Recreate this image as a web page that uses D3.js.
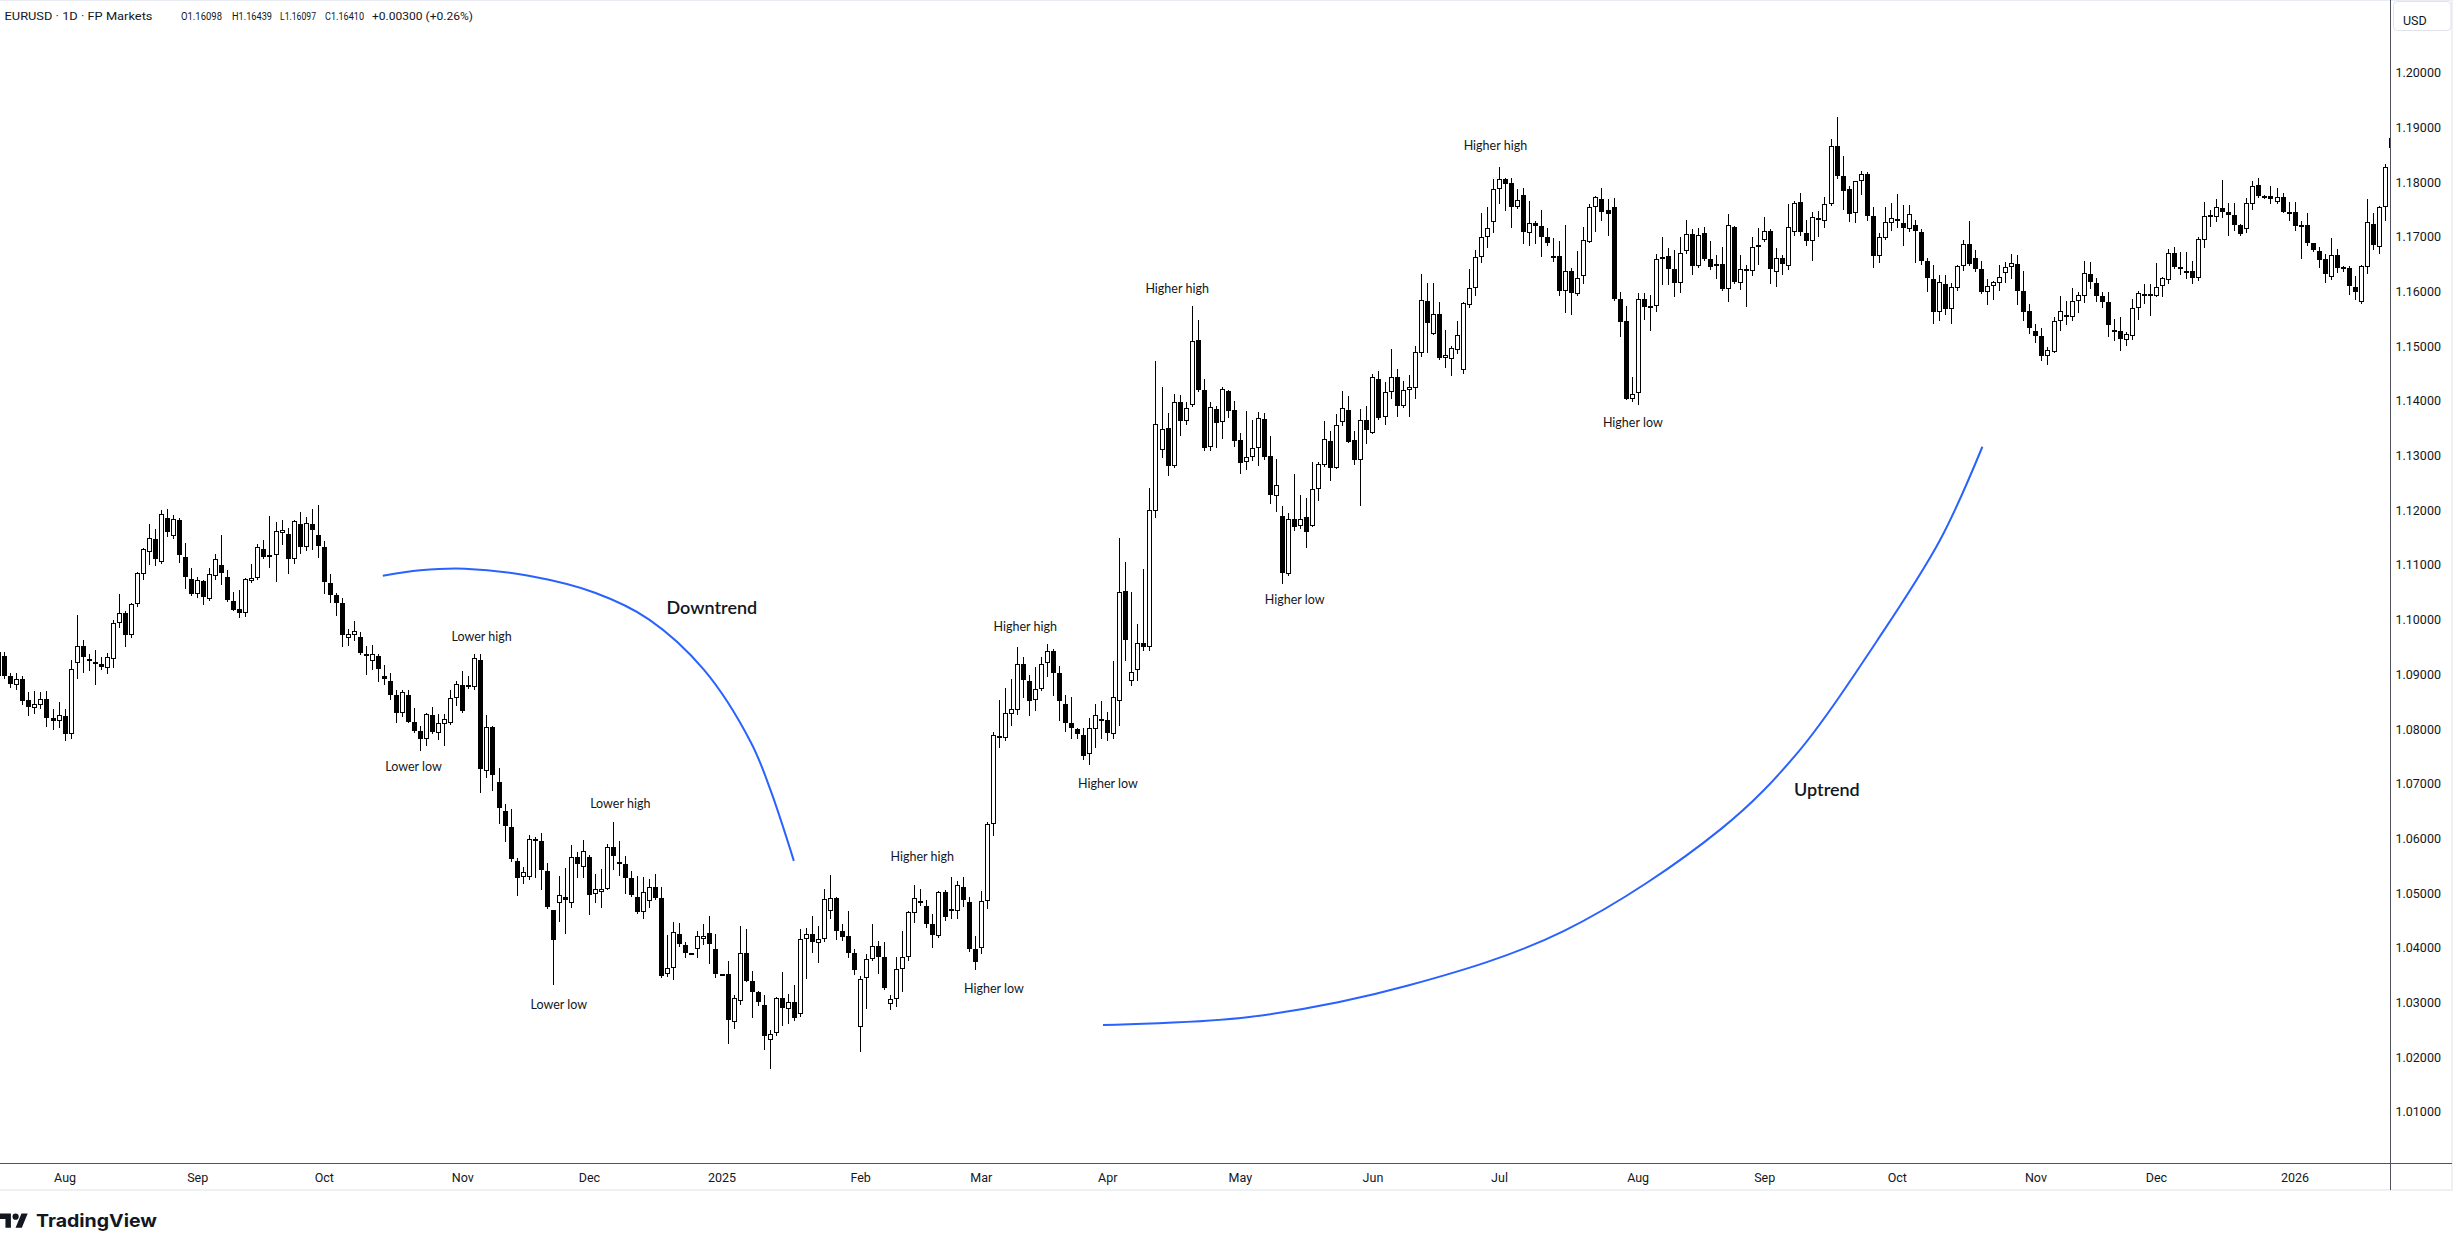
<!DOCTYPE html>
<html><head><meta charset="utf-8">
<script src="https://cdn.jsdelivr.net/npm/d3@7"></script>
<style>html,body{margin:0;padding:0;background:#fff;overflow:hidden}</style>
</head><body><svg id="c" width="2453" height="1250"></svg>
<script>
// ---------------- DATA (daily candles, first = 2024-07-17, weekdays) ----------------
const firstDay = "2024-07-17";
const openP = [
1.0897,1.0933,1.0897,1.0880,1.0892,1.0853,1.0838,1.0844,1.0854,1.0821,
1.0815,1.0824,1.0790,1.0921,1.0952,1.0928,1.0923,1.0919,1.0911,1.0928,
1.0994,1.1012,1.0971,1.1028,1.1083,1.1123,1.1147,1.1105,1.1185,1.1152,
1.1182,1.1114,1.1074,1.1046,1.1070,1.1037,1.1079,1.1100,1.1078,1.1034,
1.1019,1.1012,1.1070,1.1076,1.1129,1.1114,1.1118,1.1158,1.1157,1.1111,
1.1175,1.1132,1.1175,1.1155,1.1133,1.1066,1.1045,1.1030,1.0967,1.0971,
1.0969,1.0938,1.0925,1.0933,1.0897,1.0888,1.0862,1.0830,1.0862,1.0813,
1.0797,1.0781,1.0826,1.0792,1.0809,1.0811,1.0856,1.0881,1.0880,1.0876,
1.0926,1.0724,1.0803,1.0703,1.0650,1.0621,1.0559,1.0529,1.0530,1.0595,
1.0595,1.0540,1.0469,1.0482,1.0492,1.0482,1.0566,1.0548,1.0566,1.0498,
1.0502,1.0508,1.0585,1.0556,1.0553,1.0527,1.0492,1.0465,1.0485,1.0511,
1.0491,1.0352,1.0363,1.0425,1.0405,1.0390,1.0397,1.0416,1.0427,1.0398,
1.0352,1.0352,1.0264,1.0303,1.0390,1.0340,1.0319,1.0295,1.0232,1.0244,
1.0308,1.0288,1.0301,1.0279,1.0416,1.0425,1.0409,1.0416,1.0468,1.0491,
1.0430,1.0422,1.0390,1.0256,1.0345,1.0379,1.0404,1.0383,1.0298,1.0306,
1.0361,1.0383,1.0464,1.0486,1.0476,1.0444,1.0421,1.0502,1.0471,1.0468,
1.0512,1.0483,1.0397,1.0400,1.0486,1.0627,1.0787,1.0783,1.0828,1.0834,
1.0919,1.0888,1.0853,1.0874,1.0921,1.0943,1.0902,1.0846,1.0811,1.0800,
1.0789,1.0754,1.0800,1.0819,1.0817,1.0791,1.0851,1.1052,1.0888,1.0907,
1.0958,1.0949,1.1199,1.1310,1.1350,1.1280,1.1397,1.1363,1.1392,1.1512,
1.1420,1.1315,1.1385,1.1361,1.1418,1.1384,1.1328,1.1288,1.1298,1.1313,
1.1366,1.1299,1.1226,1.1190,1.1083,1.1184,1.1172,1.1187,1.1172,1.1238,
1.1282,1.1327,1.1278,1.1361,1.1383,1.1328,1.1291,1.1365,1.1342,1.1440,
1.1371,1.1416,1.1443,1.1391,1.1420,1.1423,1.1487,1.1582,1.1523,1.1559,
1.1479,1.1476,1.1493,1.1456,1.1575,1.1607,1.1662,1.1700,1.1726,1.1787,
1.1805,1.1798,1.1755,1.1777,1.1706,1.1725,1.1720,1.1699,1.1665,1.1665,
1.1601,1.1638,1.1595,1.1628,1.1691,1.1754,1.1769,1.1749,1.1754,1.1586,
1.1545,1.1403,1.1414,1.1586,1.1569,1.1574,1.1659,1.1665,1.1641,1.1615,
1.1673,1.1705,1.1647,1.1707,1.1659,1.1647,1.1650,1.1604,1.1717,1.1615,
1.1641,1.1637,1.1685,1.1694,1.1711,1.1636,1.1661,1.1647,1.1709,1.1763,
1.1706,1.1693,1.1734,1.1728,1.1759,1.1866,1.1811,1.1787,1.1743,1.1801,
1.1815,1.1738,1.1664,1.1697,1.1725,1.1732,1.1725,1.1714,1.1722,1.1708,
1.1656,1.1623,1.1563,1.1614,1.1567,1.1606,1.1647,1.1686,1.1661,1.1641,
1.1598,1.1609,1.1616,1.1633,1.1644,1.1650,1.1601,1.1564,1.1528,1.1519,
1.1481,1.1490,1.1546,1.1557,1.1554,1.1582,1.1591,1.1632,1.1616,1.1592,
1.1580,1.1530,1.1528,1.1511,1.1519,1.1569,1.1596,1.1595,1.1592,1.1609,
1.1621,1.1670,1.1645,1.1633,1.1637,1.1625,1.1694,1.1739,1.1736,1.1752,
1.1745,1.1739,1.1722,1.1714,1.1760,1.1795,1.1775,1.1775,1.1763,1.1772,
1.1746,1.1745,1.1722,1.1722,1.1688,1.1673,1.1659,1.1627,1.1667,1.1641,
1.1642,1.1608,1.1581,1.1644,1.1723,1.1681,1.1754,1.1862];
const highP = [
1.0948,1.0941,1.0902,1.0902,1.0897,1.0868,1.0870,1.0868,1.0869,1.0837,
1.0850,1.0837,1.0927,1.1009,1.0963,1.0938,1.0945,1.0931,1.0939,1.1000,
1.1047,1.1016,1.1030,1.1087,1.1131,1.1175,1.1166,1.1201,1.1202,1.1192,
1.1185,1.1140,1.1094,1.1078,1.1073,1.1095,1.1120,1.1155,1.1090,1.1051,
1.1055,1.1076,1.1101,1.1138,1.1146,1.1190,1.1179,1.1182,1.1167,1.1182,
1.1197,1.1188,1.1203,1.1209,1.1143,1.1083,1.1048,1.1039,1.0983,1.0997,
1.0978,1.0952,1.0954,1.0937,1.0917,1.0902,1.0871,1.0871,1.0871,1.0838,
1.0805,1.0830,1.0840,1.0828,1.0828,1.0872,1.0888,1.0906,1.0896,1.0937,
1.0937,1.0826,1.0805,1.0728,1.0662,1.0653,1.0564,1.0548,1.0607,1.0603,
1.0609,1.0555,1.0470,1.0531,1.0546,1.0588,1.0575,1.0597,1.0570,1.0535,
1.0544,1.0589,1.0630,1.0595,1.0568,1.0541,1.0531,1.0529,1.0525,1.0535,
1.0511,1.0424,1.0447,1.0446,1.0411,1.0391,1.0431,1.0443,1.0458,1.0425,
1.0353,1.0376,1.0313,1.0439,1.0435,1.0358,1.0321,1.0313,1.0250,1.0310,
1.0356,1.0315,1.0332,1.0434,1.0437,1.0458,1.0439,1.0508,1.0533,1.0493,
1.0443,1.0468,1.0398,1.0348,1.0389,1.0443,1.0412,1.0410,1.0313,1.0383,
1.0431,1.0468,1.0515,1.0508,1.0487,1.0462,1.0503,1.0506,1.0529,1.0522,
1.0529,1.0493,1.0421,1.0504,1.0630,1.0795,1.0853,1.0875,1.0891,1.0949,
1.0932,1.0898,1.0914,1.0932,1.0955,1.0947,1.0916,1.0863,1.0859,1.0802,
1.0802,1.0821,1.0846,1.0851,1.0831,1.0925,1.1149,1.1106,1.1051,1.0992,
1.1093,1.1240,1.1472,1.1425,1.1378,1.1413,1.1410,1.1398,1.1573,1.1548,
1.1439,1.1397,1.1391,1.1425,1.1420,1.1400,1.1341,1.1381,1.1365,1.1380,
1.1377,1.1336,1.1294,1.1207,1.1195,1.1266,1.1228,1.1223,1.1289,1.1289,
1.1363,1.1344,1.1376,1.1418,1.1408,1.1345,1.1385,1.1391,1.1449,1.1455,
1.1434,1.1495,1.1458,1.1437,1.1447,1.1500,1.1632,1.1615,1.1615,1.1580,
1.1529,1.1500,1.1545,1.1580,1.1641,1.1676,1.1744,1.1755,1.1805,1.1828,
1.1808,1.1808,1.1787,1.1789,1.1766,1.1729,1.1749,1.1715,1.1698,1.1692,
1.1722,1.1642,1.1673,1.1717,1.1760,1.1775,1.1789,1.1769,1.1770,1.1599,
1.1574,1.1443,1.1597,1.1597,1.1594,1.1668,1.1699,1.1679,1.1676,1.1699,
1.1731,1.1714,1.1716,1.1717,1.1692,1.1667,1.1681,1.1741,1.1720,1.1666,
1.1648,1.1699,1.1716,1.1736,1.1714,1.1679,1.1666,1.1760,1.1765,1.1779,
1.1731,1.1745,1.1747,1.1773,1.1878,1.1918,1.1848,1.1793,1.1802,1.1820,
1.1818,1.1754,1.1706,1.1754,1.1761,1.1778,1.1758,1.1758,1.1731,1.1714,
1.1661,1.1648,1.1630,1.1630,1.1616,1.1648,1.1694,1.1729,1.1676,1.1655,
1.1623,1.1619,1.1648,1.1653,1.1669,1.1667,1.1637,1.1577,1.1541,1.1533,
1.1498,1.1553,1.1592,1.1583,1.1606,1.1598,1.1656,1.1654,1.1624,1.1598,
1.1598,1.1550,1.1554,1.1525,1.1586,1.1600,1.1613,1.1613,1.1652,1.1627,
1.1678,1.1682,1.1672,1.1672,1.1656,1.1700,1.1763,1.1749,1.1769,1.1804,
1.1762,1.1762,1.1723,1.1770,1.1802,1.1807,1.1777,1.1792,1.1789,1.1779,
1.1764,1.1764,1.1728,1.1743,1.1689,1.1682,1.1668,1.1698,1.1678,1.1647,
1.1647,1.1628,1.1648,1.1769,1.1743,1.1756,1.1833,1.1885];
const lowP = [
1.0895,1.0893,1.0876,1.0874,1.0845,1.0826,1.0830,1.0838,1.0805,1.0800,
1.0803,1.0779,1.0783,1.0894,1.0905,1.0907,1.0883,1.0910,1.0902,1.0914,
1.0986,1.0951,1.0969,1.1024,1.1074,1.1101,1.1099,1.1103,1.1152,1.1150,
1.1106,1.1057,1.1045,1.1042,1.1028,1.1036,1.1075,1.1065,1.1034,1.1017,
1.1004,1.1006,1.1068,1.1075,1.1112,1.1097,1.1070,1.1138,1.1085,1.1104,
1.1122,1.1127,1.1129,1.1114,1.1048,1.1033,1.1009,1.0952,1.0954,1.0962,
1.0937,1.0901,1.0909,1.0888,1.0883,1.0854,1.0812,1.0824,1.0812,1.0795,
1.0762,1.0771,1.0792,1.0782,1.0770,1.0809,1.0844,1.0831,1.0875,1.0873,
1.0684,1.0713,1.0688,1.0629,1.0596,1.0558,1.0497,1.0518,1.0526,1.0530,
1.0507,1.0473,1.0334,1.0449,1.0427,1.0475,1.0529,1.0529,1.0462,1.0483,
1.0474,1.0507,1.0544,1.0533,1.0500,1.0495,1.0464,1.0454,1.0475,1.0489,
1.0346,1.0349,1.0343,1.0404,1.0384,1.0389,1.0384,1.0407,1.0373,1.0346,
1.0351,1.0226,1.0254,1.0297,1.0339,1.0274,1.0296,1.0215,1.0180,1.0241,
1.0259,1.0262,1.0268,1.0276,1.0345,1.0393,1.0374,1.0413,1.0455,1.0416,
1.0415,1.0384,1.0352,1.0212,1.0290,1.0378,1.0354,1.0325,1.0289,1.0294,
1.0321,1.0377,1.0448,1.0478,1.0438,1.0402,1.0420,1.0451,1.0455,1.0455,
1.0476,1.0395,1.0361,1.0391,1.0472,1.0606,1.0767,1.0780,1.0808,1.0828,
1.0859,1.0825,1.0834,1.0872,1.0896,1.0862,1.0817,1.0797,1.0783,1.0783,
1.0746,1.0736,1.0767,1.0783,1.0780,1.0783,1.0808,1.0927,1.0881,1.0890,
1.0945,1.0945,1.1188,1.1297,1.1265,1.1279,1.1337,1.1357,1.1390,1.1418,
1.1310,1.1310,1.1316,1.1332,1.1371,1.1318,1.1268,1.1275,1.1292,1.1283,
1.1293,1.1213,1.1198,1.1067,1.1082,1.1164,1.1168,1.1132,1.1171,1.1219,
1.1281,1.1255,1.1277,1.1356,1.1324,1.1284,1.1210,1.1322,1.1341,1.1366,
1.1358,1.1406,1.1373,1.1388,1.1373,1.1406,1.1482,1.1490,1.1523,1.1476,
1.1461,1.1448,1.1487,1.1451,1.1572,1.1593,1.1654,1.1682,1.1708,1.1762,
1.1748,1.1718,1.1753,1.1688,1.1685,1.1689,1.1664,1.1685,1.1656,1.1594,
1.1563,1.1558,1.1593,1.1616,1.1690,1.1711,1.1731,1.1704,1.1585,1.1519,
1.1403,1.1400,1.1394,1.1550,1.1529,1.1565,1.1614,1.1614,1.1591,1.1599,
1.1670,1.1632,1.1645,1.1658,1.1641,1.1624,1.1603,1.1583,1.1616,1.1604,
1.1574,1.1630,1.1650,1.1692,1.1615,1.1609,1.1632,1.1641,1.1703,1.1703,
1.1684,1.1658,1.1702,1.1717,1.1758,1.1808,1.1751,1.1729,1.1726,1.1778,
1.1730,1.1645,1.1653,1.1696,1.1712,1.1717,1.1684,1.1711,1.1653,1.1650,
1.1600,1.1543,1.1548,1.1558,1.1543,1.1602,1.1639,1.1648,1.1638,1.1597,
1.1577,1.1586,1.1602,1.1618,1.1625,1.1577,1.1548,1.1524,1.1507,1.1474,
1.1468,1.1489,1.1530,1.1541,1.1548,1.1563,1.1580,1.1607,1.1583,1.1572,
1.1519,1.1511,1.1492,1.1502,1.1513,1.1549,1.1578,1.1556,1.1591,1.1592,
1.1616,1.1642,1.1632,1.1624,1.1616,1.1621,1.1682,1.1720,1.1728,1.1736,
1.1704,1.1712,1.1703,1.1708,1.1751,1.1773,1.1771,1.1761,1.1761,1.1745,
1.1731,1.1712,1.1661,1.1685,1.1673,1.1644,1.1618,1.1622,1.1635,1.1638,
1.1595,1.1586,1.1578,1.1633,1.1677,1.1671,1.1730,1.1858];
const closeP = [
1.0940,1.0896,1.0882,1.0891,1.0852,1.0840,1.0846,1.0855,1.0821,1.0814,
1.0826,1.0790,1.0910,1.0952,1.0931,1.0924,1.0918,1.0914,1.0931,1.0994,
1.1012,1.0971,1.1028,1.1085,1.1129,1.1149,1.1111,1.1193,1.1161,1.1184,
1.1119,1.1077,1.1046,1.1072,1.1042,1.1083,1.1111,1.1085,1.1035,1.1018,
1.1012,1.1074,1.1076,1.1132,1.1114,1.1118,1.1162,1.1163,1.1111,1.1180,
1.1132,1.1176,1.1163,1.1134,1.1068,1.1045,1.1030,1.0972,1.0973,1.0980,
1.0939,1.0937,1.0937,1.0909,1.0891,1.0862,1.0830,1.0867,1.0813,1.0797,
1.0781,1.0828,1.0795,1.0811,1.0818,1.0856,1.0883,1.0832,1.0881,1.0929,
1.0727,1.0803,1.0716,1.0655,1.0623,1.0563,1.0528,1.0538,1.0598,1.0599,
1.0543,1.0474,1.0414,1.0496,1.0488,1.0566,1.0554,1.0577,1.0497,1.0508,
1.0508,1.0585,1.0567,1.0554,1.0527,1.0496,1.0465,1.0502,1.0511,1.0491,
1.0349,1.0363,1.0428,1.0407,1.0391,1.0390,1.0422,1.0422,1.0407,1.0352,
1.0352,1.0268,1.0308,1.0390,1.0340,1.0319,1.0301,1.0238,1.0242,1.0308,
1.0290,1.0301,1.0271,1.0416,1.0425,1.0410,1.0416,1.0489,1.0491,1.0430,
1.0419,1.0391,1.0359,1.0343,1.0379,1.0404,1.0383,1.0326,1.0306,1.0361,
1.0383,1.0465,1.0491,1.0485,1.0444,1.0424,1.0502,1.0457,1.0470,1.0515,
1.0487,1.0397,1.0374,1.0486,1.0627,1.0789,1.0783,1.0830,1.0836,1.0919,
1.0889,1.0851,1.0874,1.0919,1.0943,1.0902,1.0852,1.0811,1.0802,1.0791,
1.0751,1.0801,1.0825,1.0814,1.0793,1.0859,1.1051,1.0963,1.0904,1.0958,
1.0949,1.1201,1.1357,1.1349,1.1280,1.1397,1.1363,1.1387,1.1510,1.1419,
1.1313,1.1388,1.1360,1.1422,1.1382,1.1327,1.1287,1.1297,1.1313,1.1368,
1.1298,1.1227,1.1246,1.1086,1.1184,1.1170,1.1184,1.1161,1.1238,1.1284,
1.1330,1.1278,1.1356,1.1386,1.1325,1.1291,1.1365,1.1346,1.1443,1.1369,
1.1417,1.1443,1.1391,1.1420,1.1425,1.1489,1.1584,1.1543,1.1559,1.1479,
1.1484,1.1496,1.1520,1.1578,1.1607,1.1662,1.1700,1.1715,1.1787,1.1805,
1.1796,1.1755,1.1768,1.1708,1.1725,1.1720,1.1699,1.1688,1.1664,1.1601,
1.1638,1.1597,1.1624,1.1694,1.1754,1.1772,1.1746,1.1741,1.1586,1.1544,
1.1404,1.1413,1.1586,1.1571,1.1574,1.1659,1.1663,1.1641,1.1615,1.1671,
1.1705,1.1647,1.1703,1.1659,1.1645,1.1650,1.1605,1.1722,1.1618,1.1641,
1.1637,1.1681,1.1683,1.1711,1.1641,1.1661,1.1650,1.1717,1.1761,1.1708,
1.1693,1.1736,1.1733,1.1759,1.1866,1.1811,1.1784,1.1742,1.1802,1.1814,
1.1737,1.1664,1.1700,1.1726,1.1734,1.1730,1.1715,1.1741,1.1711,1.1656,
1.1625,1.1563,1.1618,1.1568,1.1608,1.1647,1.1686,1.1650,1.1641,1.1598,
1.1609,1.1617,1.1626,1.1644,1.1652,1.1600,1.1563,1.1534,1.1518,1.1481,
1.1492,1.1546,1.1564,1.1554,1.1583,1.1594,1.1633,1.1618,1.1591,1.1580,
1.1538,1.1529,1.1513,1.1522,1.1569,1.1597,1.1595,1.1596,1.1608,1.1624,
1.1670,1.1644,1.1644,1.1637,1.1625,1.1695,1.1738,1.1739,1.1754,1.1746,
1.1739,1.1722,1.1705,1.1761,1.1793,1.1775,1.1772,1.1769,1.1772,1.1746,
1.1745,1.1719,1.1721,1.1688,1.1675,1.1658,1.1632,1.1667,1.1642,1.1644,
1.1609,1.1598,1.1647,1.1726,1.1685,1.1754,1.1827,1.1880];

const monthLabels = ["Aug","Sep","Oct","Nov","Dec","2025","Feb","Mar","Apr","May","Jun","Jul","Aug","Sep","Oct","Nov","Dec","2026"];
const priceTicks = [1.01,1.02,1.03,1.04,1.05,1.06,1.07,1.08,1.09,1.10,1.11,1.12,1.13,1.14,1.15,1.16,1.17,1.18,1.19,1.20];
const currency = "USD";
const titleParts = ["EURUSD", "1D", "FP Markets"];
const legendOHLC = [["O", 1.16098], ["H", 1.16439], ["L", 1.16097], ["C", 1.16410]];
const legendChange = [0.00300, 0.26];

// annotations anchored in data space: candle index (array index) and price
const swingLabels = [
  ["Lower low", 68.9, 1.0732], ["Lower high", 80.2, 1.0970], ["Lower low", 93.0, 1.0297],
  ["Lower high", 103.2, 1.0664], ["Higher high", 153.3, 1.0566], ["Higher low", 165.2, 1.0325],
  ["Higher high", 170.4, 1.0987], ["Higher low", 184.1, 1.0700], ["Higher high", 195.6, 1.1606],
  ["Higher low", 215.1, 1.1036], ["Higher high", 248.4, 1.1866], ["Higher low", 271.2, 1.1360]
];
const trendLabels = [["Downtrend", 118.4, 1.1023], ["Uptrend", 303.4, 1.0691]];
const downArc = [[63.8,1.1080],[70,1.1090],[77.4,1.1093],[88,1.1080],[99.0,1.1049],[108,1.1000],[117.1,1.0908],[124.9,1.0775],[128.1,1.0689],[132.0,1.0559]];
const upArc = [[183.3,1.0259],[207.9,1.0274],[233.9,1.0331],[259.8,1.0431],[285.8,1.0617],[298.8,1.0760],[311.7,1.0961],[322.2,1.1146],[329.2,1.1316]];

// ---------------- RENDER ----------------
const W = 2453, H = 1250;
const axisX = 2390.5, axisY = 1163.5;
const svg = d3.select("#c");
svg.append("rect").attr("width", W).attr("height", H).attr("fill", "#fff");

const n = openP.length;
const dates = [];
{
  let d = new Date(firstDay + "T00:00:00Z");
  while (dates.length < n) {
    const wd = d.getUTCDay();
    if (wd !== 0 && wd !== 6) dates.push(new Date(d));
    d = new Date(d.getTime() + 86400000);
  }
}
const x = d3.scaleLinear().domain([1, 396]).range([4.3, 2385.0]);
const y = d3.scaleLinear().domain([1.01, 1.19]).range([1111.9, 127.3]);

// frame lines
svg.append("rect").attr("x", 0).attr("y", 0).attr("width", W).attr("height", 1).attr("fill", "#e9ecf2");
svg.append("rect").attr("x", 0).attr("y", 1189).attr("width", W).attr("height", 2).attr("fill", "#eef0f4");
svg.append("rect").attr("x", 2451).attr("y", 0).attr("width", 2).attr("height", 1191).attr("fill", "#eef0f4");

// clip
svg.append("clipPath").attr("id", "plot").append("rect").attr("x", 0).attr("y", 0).attr("width", axisX).attr("height", axisY - 0.5);
const plot = svg.append("g").attr("clip-path", "url(#plot)");

const candles = d3.range(n).map(i => ({i, o: openP[i], h: highP[i], l: lowP[i], c: closeP[i], date: dates[i]}));
const cg = plot.selectAll("g.cd").data(candles).join("g").attr("class", "cd");
cg.append("line")
  .attr("x1", d => Math.round(x(d.i)) + 0.5).attr("x2", d => Math.round(x(d.i)) + 0.5)
  .attr("y1", d => Math.round(y(d.h))).attr("y2", d => Math.round(y(d.l)) + 1)
  .attr("stroke", "#000").attr("stroke-width", 1).attr("shape-rendering", "crispEdges");
cg.append("rect")
  .attr("x", d => Math.round(x(d.i)) - 1.5)
  .attr("y", d => Math.round(y(Math.max(d.o, d.c))) + 0.5)
  .attr("width", 4)
  .attr("height", d => Math.max(1, Math.round(y(Math.min(d.o, d.c))) - Math.round(y(Math.max(d.o, d.c))) - 1))
  .attr("fill", d => d.c >= d.o ? "#fff" : "#000")
  .attr("stroke", "#000").attr("stroke-width", 1);

// annotations
const ann = plot.append("g");
const lineGen = d3.line().x(d => x(d[0])).y(d => y(d[1])).curve(d3.curveCatmullRom.alpha(0.5));
ann.append("path").attr("d", lineGen(downArc)).attr("fill", "none").attr("stroke", "#2962ff").attr("stroke-width", 2);
ann.append("path").attr("d", lineGen(upArc)).attr("fill", "none").attr("stroke", "#2962ff").attr("stroke-width", 2);
ann.selectAll("text.sw").data(swingLabels).join("text").attr("class", "sw")
  .attr("x", d => x(d[1])).attr("y", d => y(d[2]))
  .attr("text-anchor", "middle").attr("dominant-baseline", "central")
  .attr("font-family", "Lato, 'Open Sans', sans-serif").attr("font-size", 12.5).attr("fill", "#131722")
  .text(d => d[0]);
ann.selectAll("text.tr").data(trendLabels).join("text").attr("class", "tr")
  .attr("x", d => x(d[1])).attr("y", d => y(d[2]))
  .attr("text-anchor", "middle").attr("dominant-baseline", "central")
  .attr("font-family", "Lato, 'Open Sans', sans-serif").attr("font-size", 18).attr("font-weight", 600).attr("fill", "#131722")
  .text(d => d[0]);

// axis lines
svg.append("line").attr("x1", axisX).attr("x2", axisX).attr("y1", 0).attr("y2", 1190).attr("stroke", "#50535e").attr("stroke-width", 1);
svg.append("line").attr("x1", 0).attr("x2", 2452).attr("y1", axisY).attr("y2", axisY).attr("stroke", "#50535e").attr("stroke-width", 1);

// price axis
const yAxis = svg.append("g").attr("transform", `translate(${axisX},0)`)
  .call(d3.axisRight(y).tickValues(priceTicks).tickFormat(d3.format(".5f")).tickSize(0).tickPadding(5));
yAxis.select(".domain").remove();
yAxis.selectAll("text").attr("font-family", "Roboto, sans-serif").attr("font-size", 12.5).attr("fill", "#131722");

// currency box
svg.append("rect").attr("x", 2393.5).attr("y", 1.5).attr("width", 57.5).attr("height", 29).attr("rx", 4)
  .attr("fill", "#fff").attr("stroke", "#e0e3eb");
svg.append("text").attr("x", 2403).attr("y", 20).attr("dominant-baseline", "central")
  .attr("font-family", "Roboto, sans-serif").attr("font-size", 12.5).attr("fill", "#131722").text(currency);

// time axis
const monthIdx = [];
for (let i = 1; i < n; i++) if (dates[i].getUTCMonth() !== dates[i - 1].getUTCMonth()) monthIdx.push(i);
const xAxis = svg.append("g").attr("transform", `translate(0,${axisY})`)
  .call(d3.axisBottom(x).tickValues(monthIdx).tickFormat((d, j) => monthLabels[j]).tickSize(0));
xAxis.select(".domain").remove();
xAxis.selectAll("text").attr("y", 18).attr("dy", 0)
  .attr("font-family", "Roboto, sans-serif").attr("font-size", 12.5).attr("fill", "#131722");

// header legend: separate texts, each fitted to its measured span
const fx = d3.format(".5f");
const hdrItems = [
  [titleParts.join(" \u00b7 "), 4.5, 148],
  ...legendOHLC.map((d, j) => [d[0] + fx(d[1]), [181, 232, 280, 325][j], [41, 40, 36, 39][j]]),
  ["+" + fx(legendChange[0]) + " (+" + legendChange[1].toFixed(2) + "%)", 372, 101]
];
svg.selectAll("text.hdr").data(hdrItems).join("text").attr("class", "hdr")
  .attr("x", d => d[1]).attr("y", 20)
  .attr("font-family", "Roboto, sans-serif").attr("font-size", 10.5).attr("fill", "#131722")
  .attr("textLength", d => d[2]).attr("lengthAdjust", "spacingAndGlyphs")
  .text(d => d[0]);

// TradingView logo
const logo = svg.append("g").attr("transform", "translate(0,1210.5) scale(0.78)").attr("fill", "#131722");
logo.append("path").attr("d", "M14 22H7V11H0V4h14v18zM28 22h-8l7.5-18h8L28 22z");
logo.append("circle").attr("cx", 20).attr("cy", 8).attr("r", 4);
svg.append("text").attr("x", 36).attr("y", 1227).attr("font-family", "Inter, Roboto, sans-serif")
  .attr("font-weight", 700).attr("font-size", 18).attr("fill", "#131722").attr("textLength", 121)
  .attr("lengthAdjust", "spacingAndGlyphs").text("TradingView");
</script>
</body></html>
